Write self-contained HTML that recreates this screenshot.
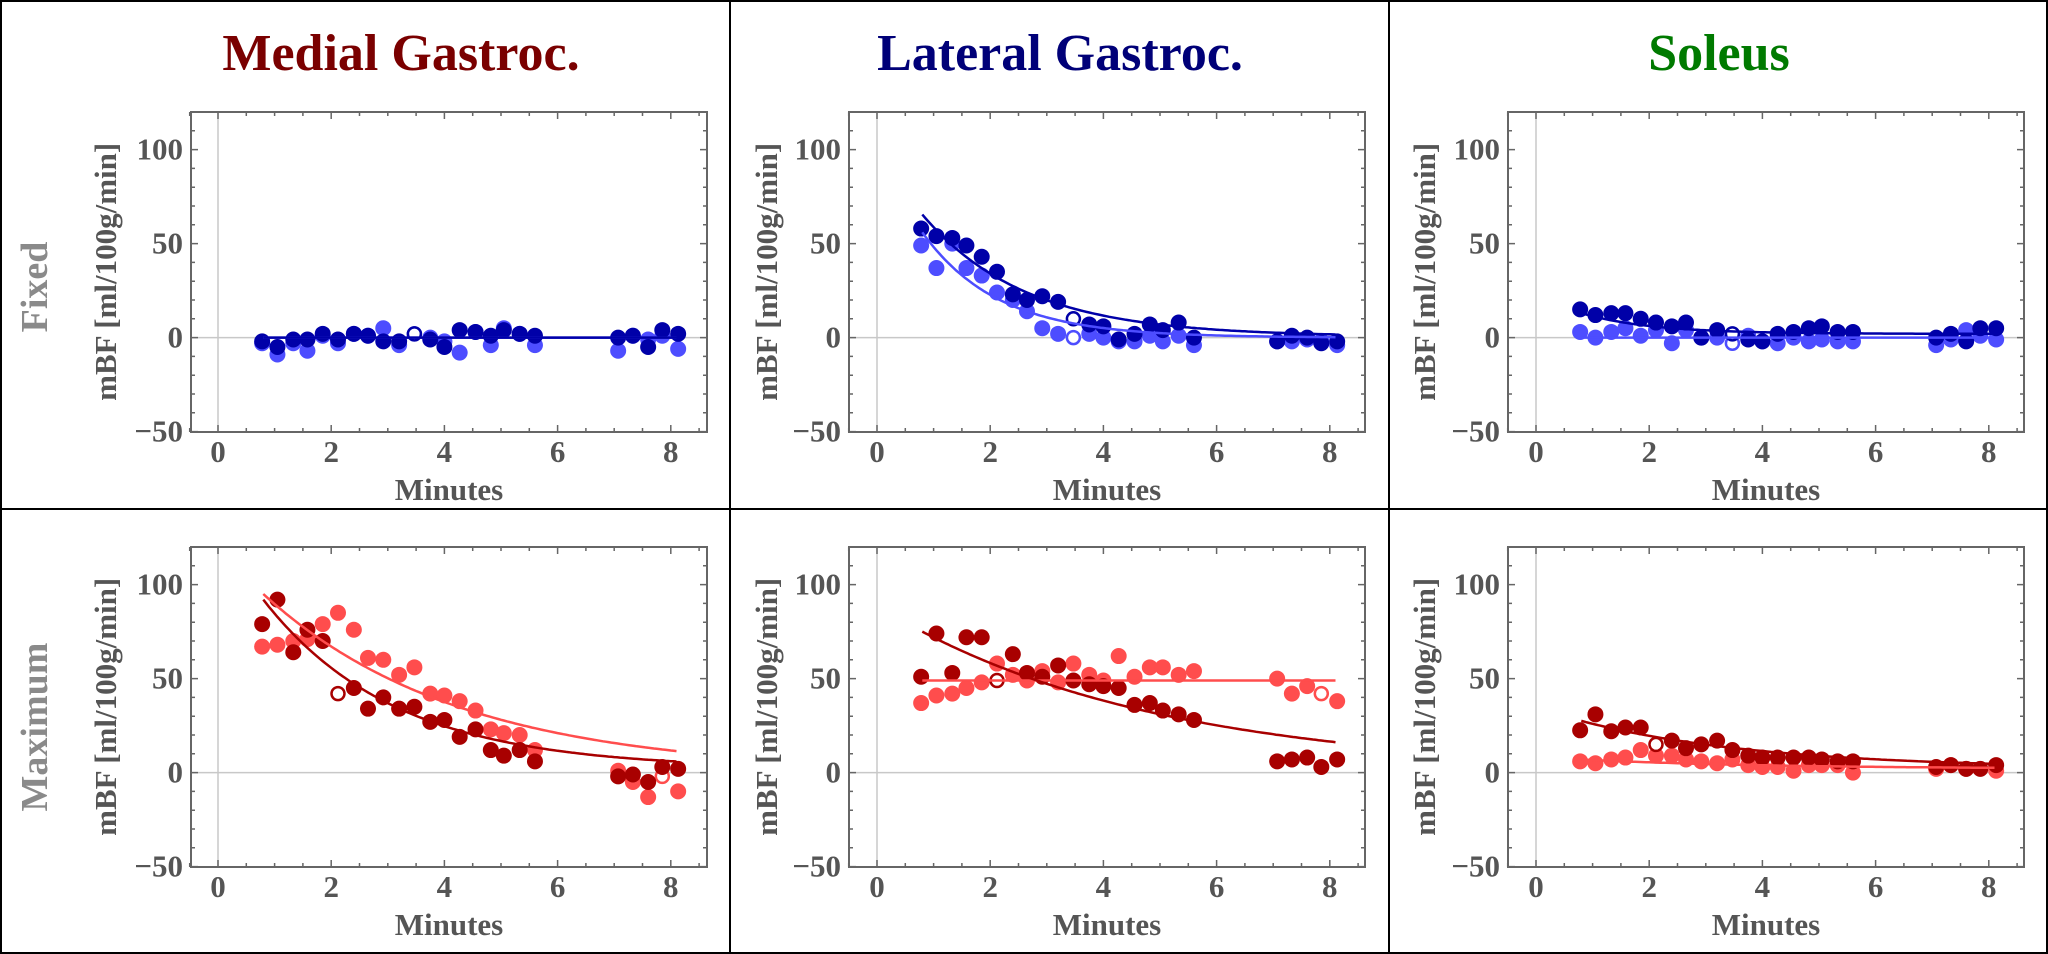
<!DOCTYPE html>
<html><head><meta charset="utf-8"><style>
html,body{margin:0;padding:0;background:#fff;}
svg{display:block;}
text{font-family:"Liberation Serif",serif;font-weight:bold;}
</style></head><body>
<svg id="fig" width="2048" height="954" viewBox="0 0 2048 954" xmlns="http://www.w3.org/2000/svg">
<rect x="1" y="1" width="2046" height="952" fill="#fff" stroke="#000" stroke-width="2"/>
<line x1="730" y1="0" x2="730" y2="954" stroke="#000" stroke-width="2"/>
<line x1="1389" y1="0" x2="1389" y2="954" stroke="#000" stroke-width="2"/>
<line x1="0" y1="509" x2="2048" y2="509" stroke="#000" stroke-width="2"/>
<text x="401" y="70" font-size="52" fill="#7a0000" text-anchor="middle">Medial Gastroc.</text>
<text x="1060" y="70" font-size="52" fill="#000078" text-anchor="middle">Lateral Gastroc.</text>
<text x="1719" y="70" font-size="52" fill="#007a00" text-anchor="middle">Soleus</text>
<text transform="translate(47,287) rotate(-90)" font-size="38" fill="#8a8a8a" text-anchor="middle">Fixed</text>
<text transform="translate(47,727) rotate(-90)" font-size="38" fill="#8a8a8a" text-anchor="middle">Maximum</text>
</svg>
<script>
// shared x data (minutes)
const minutes = [0.78,1.05,1.33,1.58,1.85,2.12,2.4,2.65,2.92,3.2,3.47,3.75,4.0,4.27,4.55,4.82,5.05,5.33,5.6,7.07,7.33,7.6,7.85,8.13];
const xTicks = [0,2,4,6,8];
const yTicks = [-50,0,50,100];
// Fixed row
const mgFixedDark  = [-2,-5,-1,-1,2,-1,2,1,-2,-2,2,-1,-5,4,3,1,4,2,1,0,1,-5,4,2];
const mgFixedLight = [-3,-9,-3,-7,1,-3,2,1,5,-4,2,0,-2,-8,3,-4,5,2,-4,-7,1,-1,1,-6];
const lgFixedDark  = [58,54,53,49,43,35,23,20,22,19,10,7,6,-1,2,7,4,8,0,-2,1,0,-3,-2];
const lgFixedLight = [49,37,50,37,33,24,20,14,5,2,0,2,0,-2,-2,1,-2,1,-4,-2,-2,-1,-2,-4];
const soFixedDark  = [15,12,13,13,10,8,6,8,0,4,2,-1,-2,2,3,5,6,3,3,0,2,-2,5,5];
const soFixedLight = [3,0,3,5,1,4,-3,4,0,0,-3,1,-2,-3,0,-2,-1,-2,-2,-4,-1,4,1,-1];
// Maximum row
const mgMaxDark  = [79,92,64,76,70,42,45,34,40,34,35,27,28,19,23,12,9,12,6,-2,-1,-5,3,2];
const mgMaxLight = [67,68,70,71,79,85,76,61,60,52,56,42,41,38,33,23,21,20,12,1,-5,-13,-2,-10];
const lgMaxDark  = [51,74,53,72,72,49,63,53,51,57,49,47,46,45,36,37,33,31,28,6,7,8,3,7];
const lgMaxLight = [37,41,42,45,48,58,52,49,54,48,58,52,49,62,51,56,56,52,54,50,42,46,42,38];
const soMaxDark  = [22.5,31,22,24,24,15,17,13,15,17,12,9,8,8,8,8,7,6,6,3,4,2,2,4];
const soMaxLight = [6,5,7,8,12,9,9,7,6,5,7,4,3,3,1,4,4,4,0,2,4,2,2,1];
// fit params [offset, amplitude, rate]
const mgFixedDarkFit=[0,0,0.5], mgFixedLightFit=[0,0,0.5];
const lgFixedDarkFit=[0.5,65,0.55], lgFixedLightFit=[0,56,0.75];
const soFixedDarkFit=[2,11,0.8], soFixedLightFit=[0,0,0.5];
const mgMaxDarkFit=[2,90,0.43], mgMaxLightFit=[0,95,0.29];
const lgMaxDarkFit=[0,75,0.21], lgMaxLightFit=[49,0,0.5];
const soMaxDarkFit=[2,25.5,0.31], soMaxLightFit=[2,5,0.3];
const openFixed = 10, openMaxDark = 5, openMaxLight = 22;

const NS="http://www.w3.org/2000/svg";
const svg=document.getElementById('fig');
function mk(tag,attrs,parent){const e=document.createElementNS(NS,tag);for(const k in attrs)e.setAttribute(k,attrs[k]);(parent||svg).appendChild(e);return e;}

const panels=[
 {id:'mg-fixed',fx:191,fy:112,x0:218,dark:mgFixedDark,light:mgFixedLight,df:mgFixedDarkFit,lf:mgFixedLightFit,cd:'#0000a8',cl:'#4d4dff',od:openFixed,ol:openFixed,ytx:106},
 {id:'lg-fixed',fx:849,fy:112,x0:877,dark:lgFixedDark,light:lgFixedLight,df:lgFixedDarkFit,lf:lgFixedLightFit,cd:'#0000a8',cl:'#4d4dff',od:openFixed,ol:openFixed,ytx:767},
 {id:'so-fixed',fx:1508,fy:112,x0:1536,dark:soFixedDark,light:soFixedLight,df:soFixedDarkFit,lf:soFixedLightFit,cd:'#0000a8',cl:'#4d4dff',od:openFixed,ol:openFixed,ytx:1425},
 {id:'mg-max',fx:191,fy:547,x0:218,dark:mgMaxDark,light:mgMaxLight,df:mgMaxDarkFit,lf:mgMaxLightFit,cd:'#a80000',cl:'#ff4d4d',od:openMaxDark,ol:openMaxLight,ytx:106},
 {id:'lg-max',fx:849,fy:547,x0:877,dark:lgMaxDark,light:lgMaxLight,df:lgMaxDarkFit,lf:lgMaxLightFit,cd:'#a80000',cl:'#ff4d4d',od:openMaxDark,ol:openMaxLight,ytx:767},
 {id:'so-max',fx:1508,fy:547,x0:1536,dark:soMaxDark,light:soMaxLight,df:soMaxDarkFit,lf:soMaxLightFit,cd:'#a80000',cl:'#ff4d4d',od:openMaxDark,ol:openMaxLight,ytx:1425}
];
const W=516,H=320,XU=56.6,YU=1.88,YMAX=120;

panels.forEach(p=>{
 const g=mk('g',{});
 
 
 const sx=v=>p.x0+v*XU;
 const sy=v=>p.fy+(YMAX-v)*YU;
 const ax=mk('line',{x1:sx(0),y1:p.fy,x2:sx(0),y2:p.fy+H,stroke:'#c8c8c8','stroke-width':1.5},g);
 
 
 const ay=mk('line',{x1:p.fx,y1:sy(0),x2:p.fx+W,y2:sy(0),stroke:'#c8c8c8','stroke-width':1.5},g);
 
 
 let d='';
 for(let v=-0.5;v<=8.6;v+=0.5){const x=sx(v);const L=(Math.abs(v%2)<1e-6)?7:4;d+=`M${x},${p.fy+H}v${-L}M${x},${p.fy}v${L}`;}
 for(let v=-50;v<=120;v+=10){const y=sy(v);const L=(v%50===0)?7:4;d+=`M${p.fx},${y}h${L}M${p.fx+W},${y}h${-L}`;}
 const tk=mk('path',{d:d,stroke:'#666','stroke-width':1.5,fill:'none'},g);
 
 
 xTicks.forEach(v=>{const t=mk('text',{x:sx(v),y:p.fy+H+30,'font-size':31,fill:'#555','text-anchor':'middle'},g);t.textContent=v;
  
  });
 yTicks.forEach(v=>{const t=mk('text',{x:p.fx-8,y:sy(v)+10,'font-size':31,fill:'#555','text-anchor':'end'},g);t.textContent=v<0?'\u2212'+(-v):v;
  
  });
 const xt=mk('text',{x:p.fx+W/2,y:p.fy+H+68,'font-size':31,fill:'#555','text-anchor':'middle'},g);xt.textContent='Minutes';
 
 
 const yt=mk('text',{transform:`translate(${p.ytx+10},${sy(35)}) rotate(-90)`,'font-size':31,fill:'#555','text-anchor':'middle'},g);yt.textContent='mBF [ml/100g/min]';
 
 
 [[p.light,p.cl,p.ol,'light'],[p.dark,p.cd,p.od,'dark']].forEach(([arr,col,oi,nm])=>{
  arr.forEach((v,i)=>{
   const open=i===oi;
   const c=mk('circle',{cx:sx(minutes[i]),cy:sy(v),r:open?6.5:8,fill:open?'#fff':col,stroke:open?col:'none','stroke-width':open?2.5:0},g);
   
   
  });
 });
 [[p.lf,p.cl,'light'],[p.df,p.cd,'dark']].forEach(([f,col,nm])=>{
  let pd='';
  for(let t=0.8;t<=8.131;t+=0.05){pd+=(pd?'L':'M')+sx(t).toFixed(1)+','+sy(f[0]+f[1]*Math.exp(-f[2]*(t-0.8))).toFixed(1);}
  const l=mk('path',{d:pd,stroke:col,'stroke-width':2.5,fill:'none'},g);
  
  
 });
 const fr=mk('rect',{x:p.fx,y:p.fy,width:W,height:H,fill:'none',stroke:'#666','stroke-width':2},g);
 
 
});
</script>
</body></html>
